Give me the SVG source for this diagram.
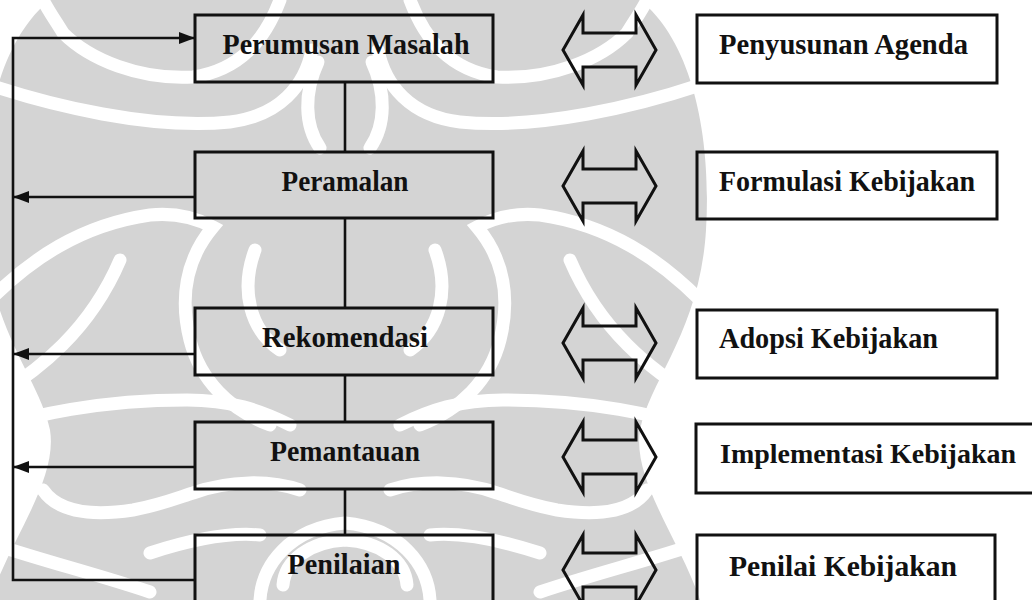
<svg xmlns="http://www.w3.org/2000/svg" xmlns:xlink="http://www.w3.org/1999/xlink" width="1032" height="600" viewBox="0 0 1032 600">
  <style>
    .wm-base { fill: #d4d4d4; }
    .wm-gap { fill: none; stroke: #ffffff; stroke-width: 13; stroke-linecap: round; }
    .box { fill: none; stroke: #111111; stroke-width: 3; }
    .lbl { font-family: "Liberation Serif", "Times New Roman", serif; font-weight: bold; font-size: 30px; fill: #111111; }
    .mid { text-anchor: middle; }
    .conn { fill: none; stroke: #111111; stroke-width: 2.6; }
    .dbl { fill: none; stroke: #111111; stroke-width: 3; stroke-linejoin: miter; }
  </style>
  <defs>
    <marker id="head" viewBox="0 0 16 12" refX="16" refY="6" markerWidth="16" markerHeight="12" markerUnits="userSpaceOnUse" orient="auto">
      <path d="M0,0 L16,6 L0,12 Z" fill="#111111"/>
    </marker>
    <!-- hollow two-way block arrow, centred on y = 0 -->
    <path id="twoway" class="dbl" d="M563,0 L583,-35 L583,-17 L636,-17 L636,-35 L656,0 L636,35 L636,17 L583,17 L583,35 Z"/>
    <!-- one half of the background emblem, mirrored about x = 345 -->
    <g id="wm-half">
      <path class="wm-gap" d="M280,0 C265,40 240,70 193,77 C140,80 90,60 63,33 C55,20 48,10 43,0"/>
      <path class="wm-gap" d="M-10,85 C50,105 150,130 230,122 C280,116 305,85 312,50"/>
      <path class="wm-gap" d="M318,62 C304,92 304,125 320,148"/>
      <path class="wm-gap" d="M-10,300 C30,260 80,225 150,215 C180,212 200,220 213,227 C185,260 180,300 190,340 C200,380 230,410 270,425"/>
      <path class="wm-gap" d="M-10,400 C40,370 90,330 120,260"/>
      <path class="wm-gap" d="M255,250 C240,290 250,330 280,350"/>
      <path class="wm-gap" d="M-10,430 C30,415 100,400 187,400 C230,400 260,410 290,425"/>
      <path class="wm-gap" d="M43,490 C60,515 100,515 133,510 C160,505 180,497 193,493 C230,480 270,480 300,490"/>
      <path class="wm-gap" d="M150,553 C190,540 230,532 260,535"/>
      <path class="wm-gap" d="M260,600 C262,565 290,528 345,523"/>
      <path class="wm-gap" d="M283,585 C285,560 310,542 345,540"/>
      <path class="wm-gap" d="M-10,543 C40,560 100,575 150,592"/>
    </g>
  </defs>

  <rect width="1032" height="600" fill="#ffffff"/>

  <!-- background emblem -->
  <g id="watermark">
    <path class="wm-base" d="M50,0 L640,0 C690,40 712,130 706,230 C700,330 650,380 640,430 C632,480 680,540 700,600 L-10,600 C10,540 58,480 50,430 C40,380 -10,330 -16,230 C-22,130 0,40 50,0 Z"/>
    <use xlink:href="#wm-half" href="#wm-half"/>
    <use xlink:href="#wm-half" href="#wm-half" transform="translate(690,0) scale(-1,1)"/>
  </g>

  <!-- connectors -->
  <g id="connectors">
    <path class="conn" d="M345,82 V152"/>
    <path class="conn" d="M345,218 V308"/>
    <path class="conn" d="M345,375 V422"/>
    <path class="conn" d="M345,489 V535"/>
    <path class="conn" d="M195,580 H13 V38 H195" marker-end="url(#head)"/>
    <path class="conn" d="M195,197 H13" marker-end="url(#head)"/>
    <path class="conn" d="M195,354 H13" marker-end="url(#head)"/>
    <path class="conn" d="M195,467 H13" marker-end="url(#head)"/>
    <use xlink:href="#twoway" href="#twoway" transform="translate(0,50)"/>
    <use xlink:href="#twoway" href="#twoway" transform="translate(0,186)"/>
    <use xlink:href="#twoway" href="#twoway" transform="translate(0,343)"/>
    <use xlink:href="#twoway" href="#twoway" transform="translate(0,457)"/>
    <use xlink:href="#twoway" href="#twoway" transform="translate(0,570)"/>
  </g>

  <!-- analysis steps -->
  <g id="perumusan-masalah">
    <rect class="box" x="195" y="15" width="298" height="67"/>
    <text class="lbl mid" x="346" y="54" textLength="247" lengthAdjust="spacingAndGlyphs">Perumusan Masalah</text>
  </g>
  <g id="peramalan">
    <rect class="box" x="195" y="152" width="298" height="66"/>
    <text class="lbl mid" x="345" y="191" textLength="127" lengthAdjust="spacingAndGlyphs">Peramalan</text>
  </g>
  <g id="rekomendasi">
    <rect class="box" x="195" y="308" width="298" height="67"/>
    <text class="lbl mid" x="345" y="347" textLength="166" lengthAdjust="spacingAndGlyphs">Rekomendasi</text>
  </g>
  <g id="pemantauan">
    <rect class="box" x="195" y="422" width="298" height="67"/>
    <text class="lbl mid" x="345" y="461" textLength="150" lengthAdjust="spacingAndGlyphs">Pemantauan</text>
  </g>
  <g id="penilaian">
    <rect class="box" x="195" y="535" width="298" height="80"/>
    <text class="lbl mid" x="344" y="574" textLength="113" lengthAdjust="spacingAndGlyphs">Penilaian</text>
  </g>

  <!-- policy stages -->
  <g id="penyusunan-agenda">
    <rect class="box" x="697" y="15" width="300" height="68"/>
    <text class="lbl" x="719" y="54" textLength="249" lengthAdjust="spacingAndGlyphs">Penyusunan Agenda</text>
  </g>
  <g id="formulasi-kebijakan">
    <rect class="box" x="697" y="152" width="300" height="67"/>
    <text class="lbl" x="719" y="191" textLength="256" lengthAdjust="spacingAndGlyphs">Formulasi Kebijakan</text>
  </g>
  <g id="adopsi-kebijakan">
    <rect class="box" x="697" y="310" width="300" height="68"/>
    <text class="lbl" x="719" y="348" textLength="219" lengthAdjust="spacingAndGlyphs">Adopsi Kebijakan</text>
  </g>
  <g id="implementasi-kebijakan">
    <rect class="box" x="696" y="424" width="350" height="69"/>
    <text class="lbl" x="720" y="463" font-size="28" style="font-size:28px" textLength="296" lengthAdjust="spacingAndGlyphs">Implementasi Kebijakan</text>
  </g>
  <g id="penilai-kebijakan">
    <rect class="box" x="697" y="535" width="298" height="80"/>
    <text class="lbl" x="729" y="576" textLength="228" lengthAdjust="spacingAndGlyphs">Penilai Kebijakan</text>
  </g>
</svg>
